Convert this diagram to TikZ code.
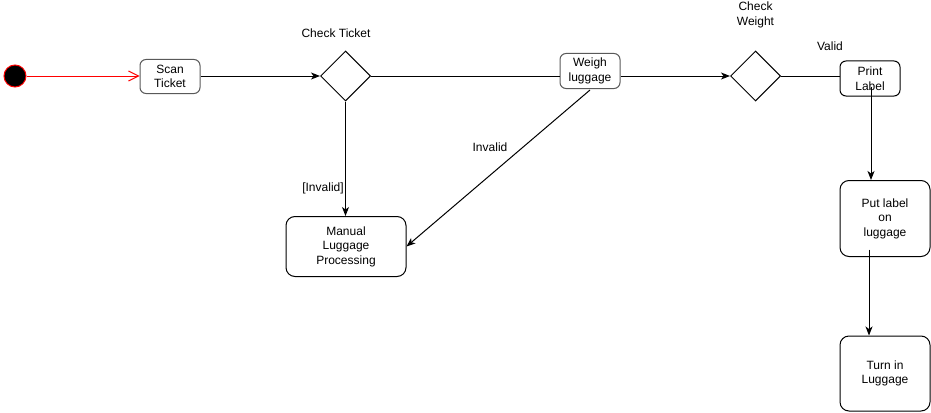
\documentclass[tikz,border=0pt]{standalone}
\usepackage{fontspec}
\setmainfont{Liberation Sans}
\usetikzlibrary{shapes.geometric,arrows.meta}
\begin{document}
\begin{tikzpicture}[x=1pt,y=-1pt,line width=1pt,
  every node/.style={font=\fontsize{12}{14.5}\selectfont, align=center, inner sep=0pt},
  act/.style={draw, rounded corners=6pt, minimum width=60pt, minimum height=34pt},
  bigact/.style={draw, rounded corners=9pt},
  decide/.style={draw, diamond, aspect=1, minimum width=50pt, minimum height=50pt},
  arr/.style={-{Stealth[length=9pt,width=7pt,inset=2.5pt]}},
  lbl/.style={}
]
\useasboundingbox (0,0) rectangle (931,412);
\node[circle, draw=red, fill=black, minimum size=22pt] (start) at (15,76) {};
\node[act, draw=black!65] (scan) at (170,76.5) {Scan\\Ticket};
\node[decide] (d1) at (345.5,76) {};
\node[act, draw=black!65, minimum height=35pt] (weigh) at (590,71) {Weigh\\luggage};
\node[decide] (d2) at (755.5,76) {};
\node[act, minimum height=35pt] (print) at (870,78.5) {Print\\Label};
\node[bigact, minimum width=90pt, minimum height=76pt] (put) at (885,218.5) {Put label\\on\\luggage};
\node[bigact, minimum width=90pt, minimum height=75pt] (turn) at (885,373.5) {Turn in\\Luggage};
\node[bigact, minimum width=120pt, minimum height=60pt] (manual) at (346,246.5) {Manual\\Luggage\\Processing};

\node[lbl] (lct) at (336,33) {Check Ticket};
\node[lbl] (lcw) at (755.5,15) {Check\\Weight};
\node[lbl] (lvalid) at (830,46) {Valid};
\node[lbl] (linv1) at (323,188) {[Invalid]};
\node[lbl] (linv2) at (490,147) {Invalid};

\draw[red, -{Straight Barb[length=10pt,width=10pt]}] (start.east) -- (scan.west |- start);
\draw[arr] (scan.east |- d1) -- (d1.west);
\draw (d1.east) -- (d1.east -| weigh.west);
\draw[arr] (weigh.east |- d2) -- (d2.west);
\draw (d2.east) -- (d2.east -| print.west);
\draw[arr] (d1.south) -- (d1.south |- manual.north);
\draw[arr] ([yshift=-1pt]weigh.south) -- (manual.east);
\coordinate (pstart) at ([xshift=1pt,yshift=-8pt]print.center);
\draw[arr] (pstart) -- (pstart |- put.north);
\coordinate (qstart) at ([xshift=-16pt,yshift=-31pt]put.center);
\draw[arr] (qstart) -- (qstart |- turn.north);
\end{tikzpicture}
\end{document}
